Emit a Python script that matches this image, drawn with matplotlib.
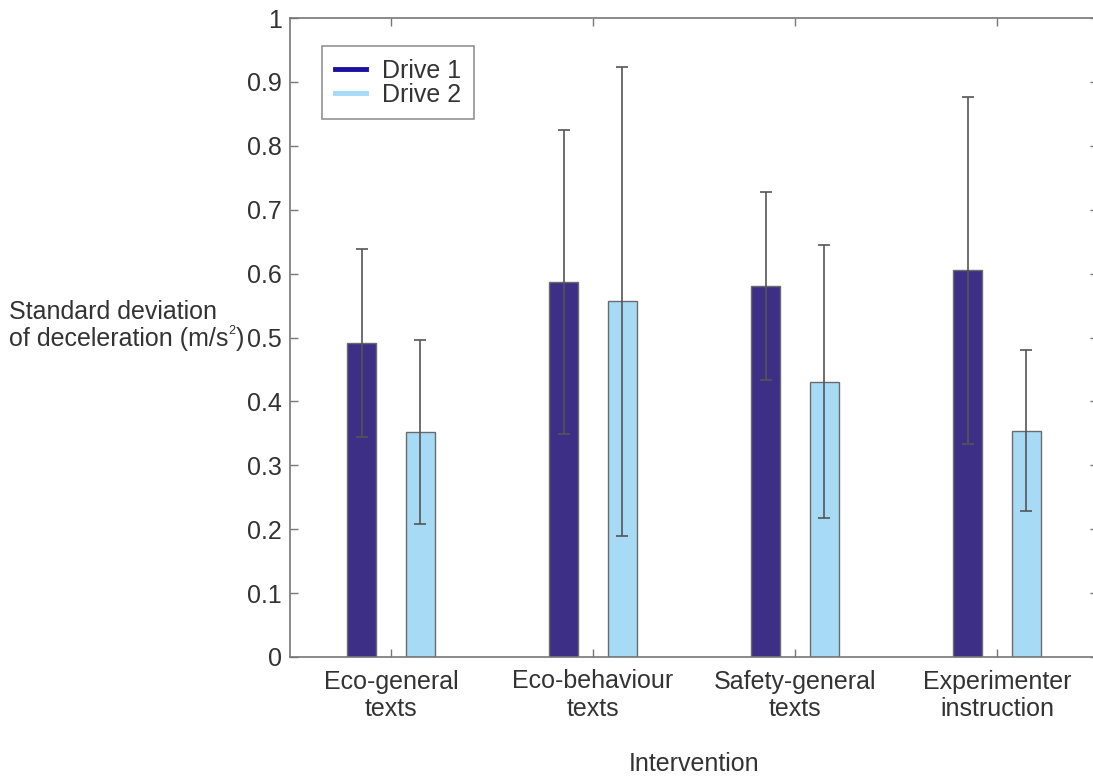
import matplotlib
matplotlib.use("Agg")
import matplotlib.pyplot as plt
import numpy as np
from matplotlib.lines import Line2D

plt.rcParams['font.family'] = ['Liberation Sans', 'DejaVu Sans']

categories = ["Eco-general\ntexts", "Eco-behaviour\ntexts", "Safety-general\ntexts", "Experimenter\ninstruction"]
drive1_mean = [0.492, 0.587, 0.581, 0.605]
drive1_err = [0.147, 0.238, 0.147, 0.272]
drive2_mean = [0.352, 0.557, 0.431, 0.354]
drive2_err = [0.144, 0.367, 0.213, 0.126]
yticks = [0, 0.1, 0.2, 0.3, 0.4, 0.5, 0.6, 0.7, 0.8, 0.9, 1]
ytick_labels = ["0", "0.1", "0.2", "0.3", "0.4", "0.5", "0.6", "0.7", "0.8", "0.9", "1"]

c1_bar = "#3d2f86"
c1_line = "#1c10a2"
c2_bar = "#a6daf5"
edge = "#6b6b6b"
err_c = "#555555"
txt = "#333333"
fs = 18

fig = plt.figure(figsize=(10.93, 7.76), dpi=100)
ax = fig.add_axes([290 / 1093, 1 - 657 / 776, 808 / 1093, 639 / 776])

x = np.arange(1, len(categories) + 1)
off = 0.145
w = 0.145
ax.bar(x - off, drive1_mean, w, color=c1_bar, edgecolor=edge, linewidth=1.0, zorder=2)
ax.bar(x + off, drive2_mean, w, color=c2_bar, edgecolor=edge, linewidth=1.0, zorder=2)
ax.errorbar(x - off, drive1_mean, yerr=drive1_err, fmt="none", ecolor=err_c,
            elinewidth=1.2, capsize=4.5, capthick=1.2, zorder=3)
ax.errorbar(x + off, drive2_mean, yerr=drive2_err, fmt="none", ecolor=err_c,
            elinewidth=1.2, capsize=4.5, capthick=1.2, zorder=3)

ax.set_xlim(0.5, 4.5)
ax.set_ylim(0, 1)
ax.set_xticks(x)
ax.set_xticklabels(categories, fontsize=fs, color=txt, linespacing=1.2)
ax.set_yticks(yticks)
ax.set_yticklabels(ytick_labels, fontsize=fs, color=txt)
ax.tick_params(direction="in", length=6, width=1, color="#777777",
               top=True, right=True)
ax.tick_params(axis="y", pad=6)
ax.tick_params(axis="x", pad=9)
for s in ax.spines.values():
    s.set_color("#777777")
    s.set_linewidth(1.2)

ax.set_xlabel("Intervention", fontsize=fs, color=txt, labelpad=22)

# Two-line y-axis title, written horizontally, with a small superscript unit
fig.text(9 / 1093, 1 - 312 / 776, "Standard deviation",
         fontsize=fs, color=txt, ha="left", va="center")
line2 = fig.text(9 / 1093, 1 - 339 / 776, "of deceleration (m/s",
                 fontsize=fs, color=txt, ha="left", va="center")
fig.canvas.draw()
renderer = fig.canvas.get_renderer()
bb = line2.get_window_extent(renderer)
sup = fig.text(bb.x1 / fig.bbox.width, 1 - 331 / 776, "2", fontsize=9, color=txt,
               ha="left", va="center")
bb2 = sup.get_window_extent(renderer)
fig.text(bb2.x1 / fig.bbox.width, 1 - 339 / 776, ")",
         fontsize=fs, color=txt, ha="left", va="center")

handles = [Line2D([0], [0], color=c1_line, lw=3.5), Line2D([0], [0], color=c2_bar, lw=3.5)]
leg = ax.legend(handles, ["Drive 1", "Drive 2"], loc="upper left",
                bbox_to_anchor=(32 / 808, 1 - 28 / 639), fontsize=fs,
                frameon=True, fancybox=False, handlelength=1.25, handletextpad=0.65,
                labelspacing=0.0, borderpad=0.5, borderaxespad=0)
leg.get_frame().set_edgecolor("#777777")
leg.get_frame().set_linewidth(1.2)
for t in leg.get_texts():
    t.set_color(txt)

fig.savefig("out.png", dpi=100)
